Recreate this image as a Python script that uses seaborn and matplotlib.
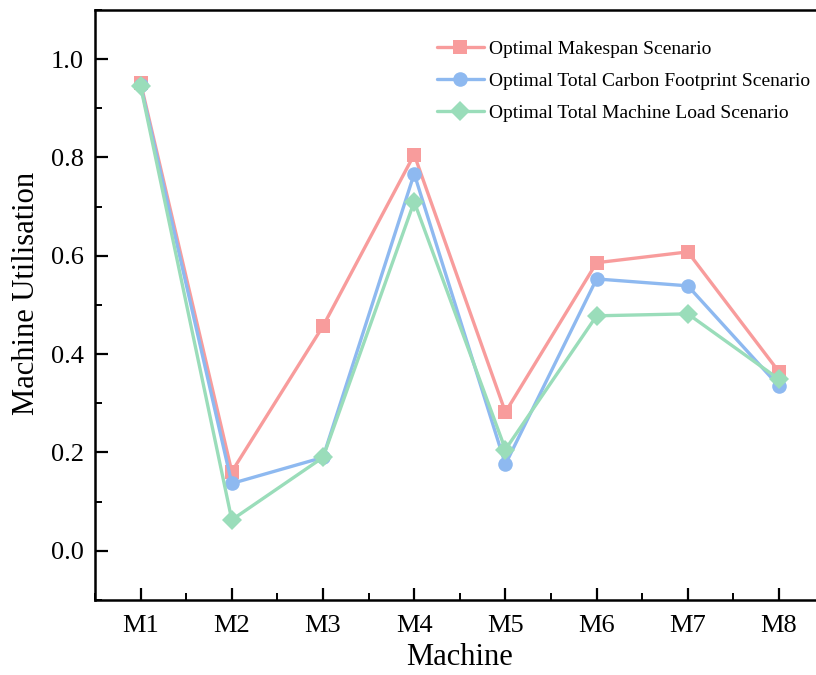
import numpy as np
import pandas as pd
import seaborn as sns
from matplotlib import pyplot as plt
from matplotlib.ticker import MultipleLocator

machines = ["M1", "M2", "M3", "M4", "M5", "M6", "M7", "M8"]
makespan = [0.952, 0.161, 0.457, 0.806, 0.282, 0.586, 0.608, 0.364]
carbon = [0.947, 0.137, 0.190, 0.767, 0.176, 0.553, 0.539, 0.335]
load = [0.945, 0.063, 0.190, 0.710, 0.206, 0.478, 0.482, 0.349]

names = ["Optimal Makespan Scenario",
         "Optimal Total Carbon Footprint Scenario",
         "Optimal Total Machine Load Scenario"]
colors = ["#F89C9C", "#8EB9F0", "#9ADDBA"]
markers = ["s", "o", "D"]
sizes = [10, 10.5, 10.5]

sns.set_style("ticks")
plt.rcParams['font.family'] = ['Liberation Serif', 'DejaVu Serif']
plt.rcParams.update({'text.color': 'black', 'axes.labelcolor': 'black',
                     'xtick.color': 'black', 'ytick.color': 'black'})

df = pd.DataFrame({
    "Machine": machines * 3,
    "Utilisation": makespan + carbon + load,
    "Scenario": [names[0]] * 8 + [names[1]] * 8 + [names[2]] * 8,
})

fig = plt.figure(figsize=(8.16, 6.75), dpi=100)
ax = fig.add_axes([95 / 816, 1 - 600 / 675, 729.6 / 816, 590 / 675])

for i, name in enumerate(names):
    sub = df[df["Scenario"] == name]
    sns.lineplot(data=sub, x="Machine", y="Utilisation", ax=ax, color=colors[i],
                 marker=markers[i], markersize=sizes[i], markeredgewidth=0,
                 linewidth=2.4, label=name, zorder=2 + i)

ax.set_xlim(-0.5, 7.5)
ax.set_ylim(-0.1, 1.1)
ax.yaxis.set_major_locator(MultipleLocator(0.2))
ax.yaxis.set_minor_locator(MultipleLocator(0.1))
ax.xaxis.set_minor_locator(MultipleLocator(0.5))
ax.yaxis.set_major_formatter(plt.FormatStrFormatter('%.1f'))

ax.tick_params(which='major', direction='in', length=9, width=1.6, labelsize=19)
ax.tick_params(axis='x', which='major', pad=11)
ax.tick_params(axis='y', which='major', pad=8)
ax.tick_params(which='minor', direction='in', length=5, width=1.4)
ax.tick_params(top=False, right=False, which='both')
for s in ax.spines.values():
    s.set_linewidth(1.8)
    s.set_color('black')

ax.set_xlabel("Machine", fontsize=22, labelpad=4)
ax.set_ylabel("Machine Utilisation", fontsize=22)
ax.yaxis.set_label_coords(-0.074, 0.52)

ax.legend(loc='upper left', bbox_to_anchor=(0.458, 0.962), frameon=False, fontsize=14,
          handlelength=2.4, handletextpad=0.3, labelspacing=0.75, borderaxespad=0)

fig.savefig("out.png", dpi=100)
